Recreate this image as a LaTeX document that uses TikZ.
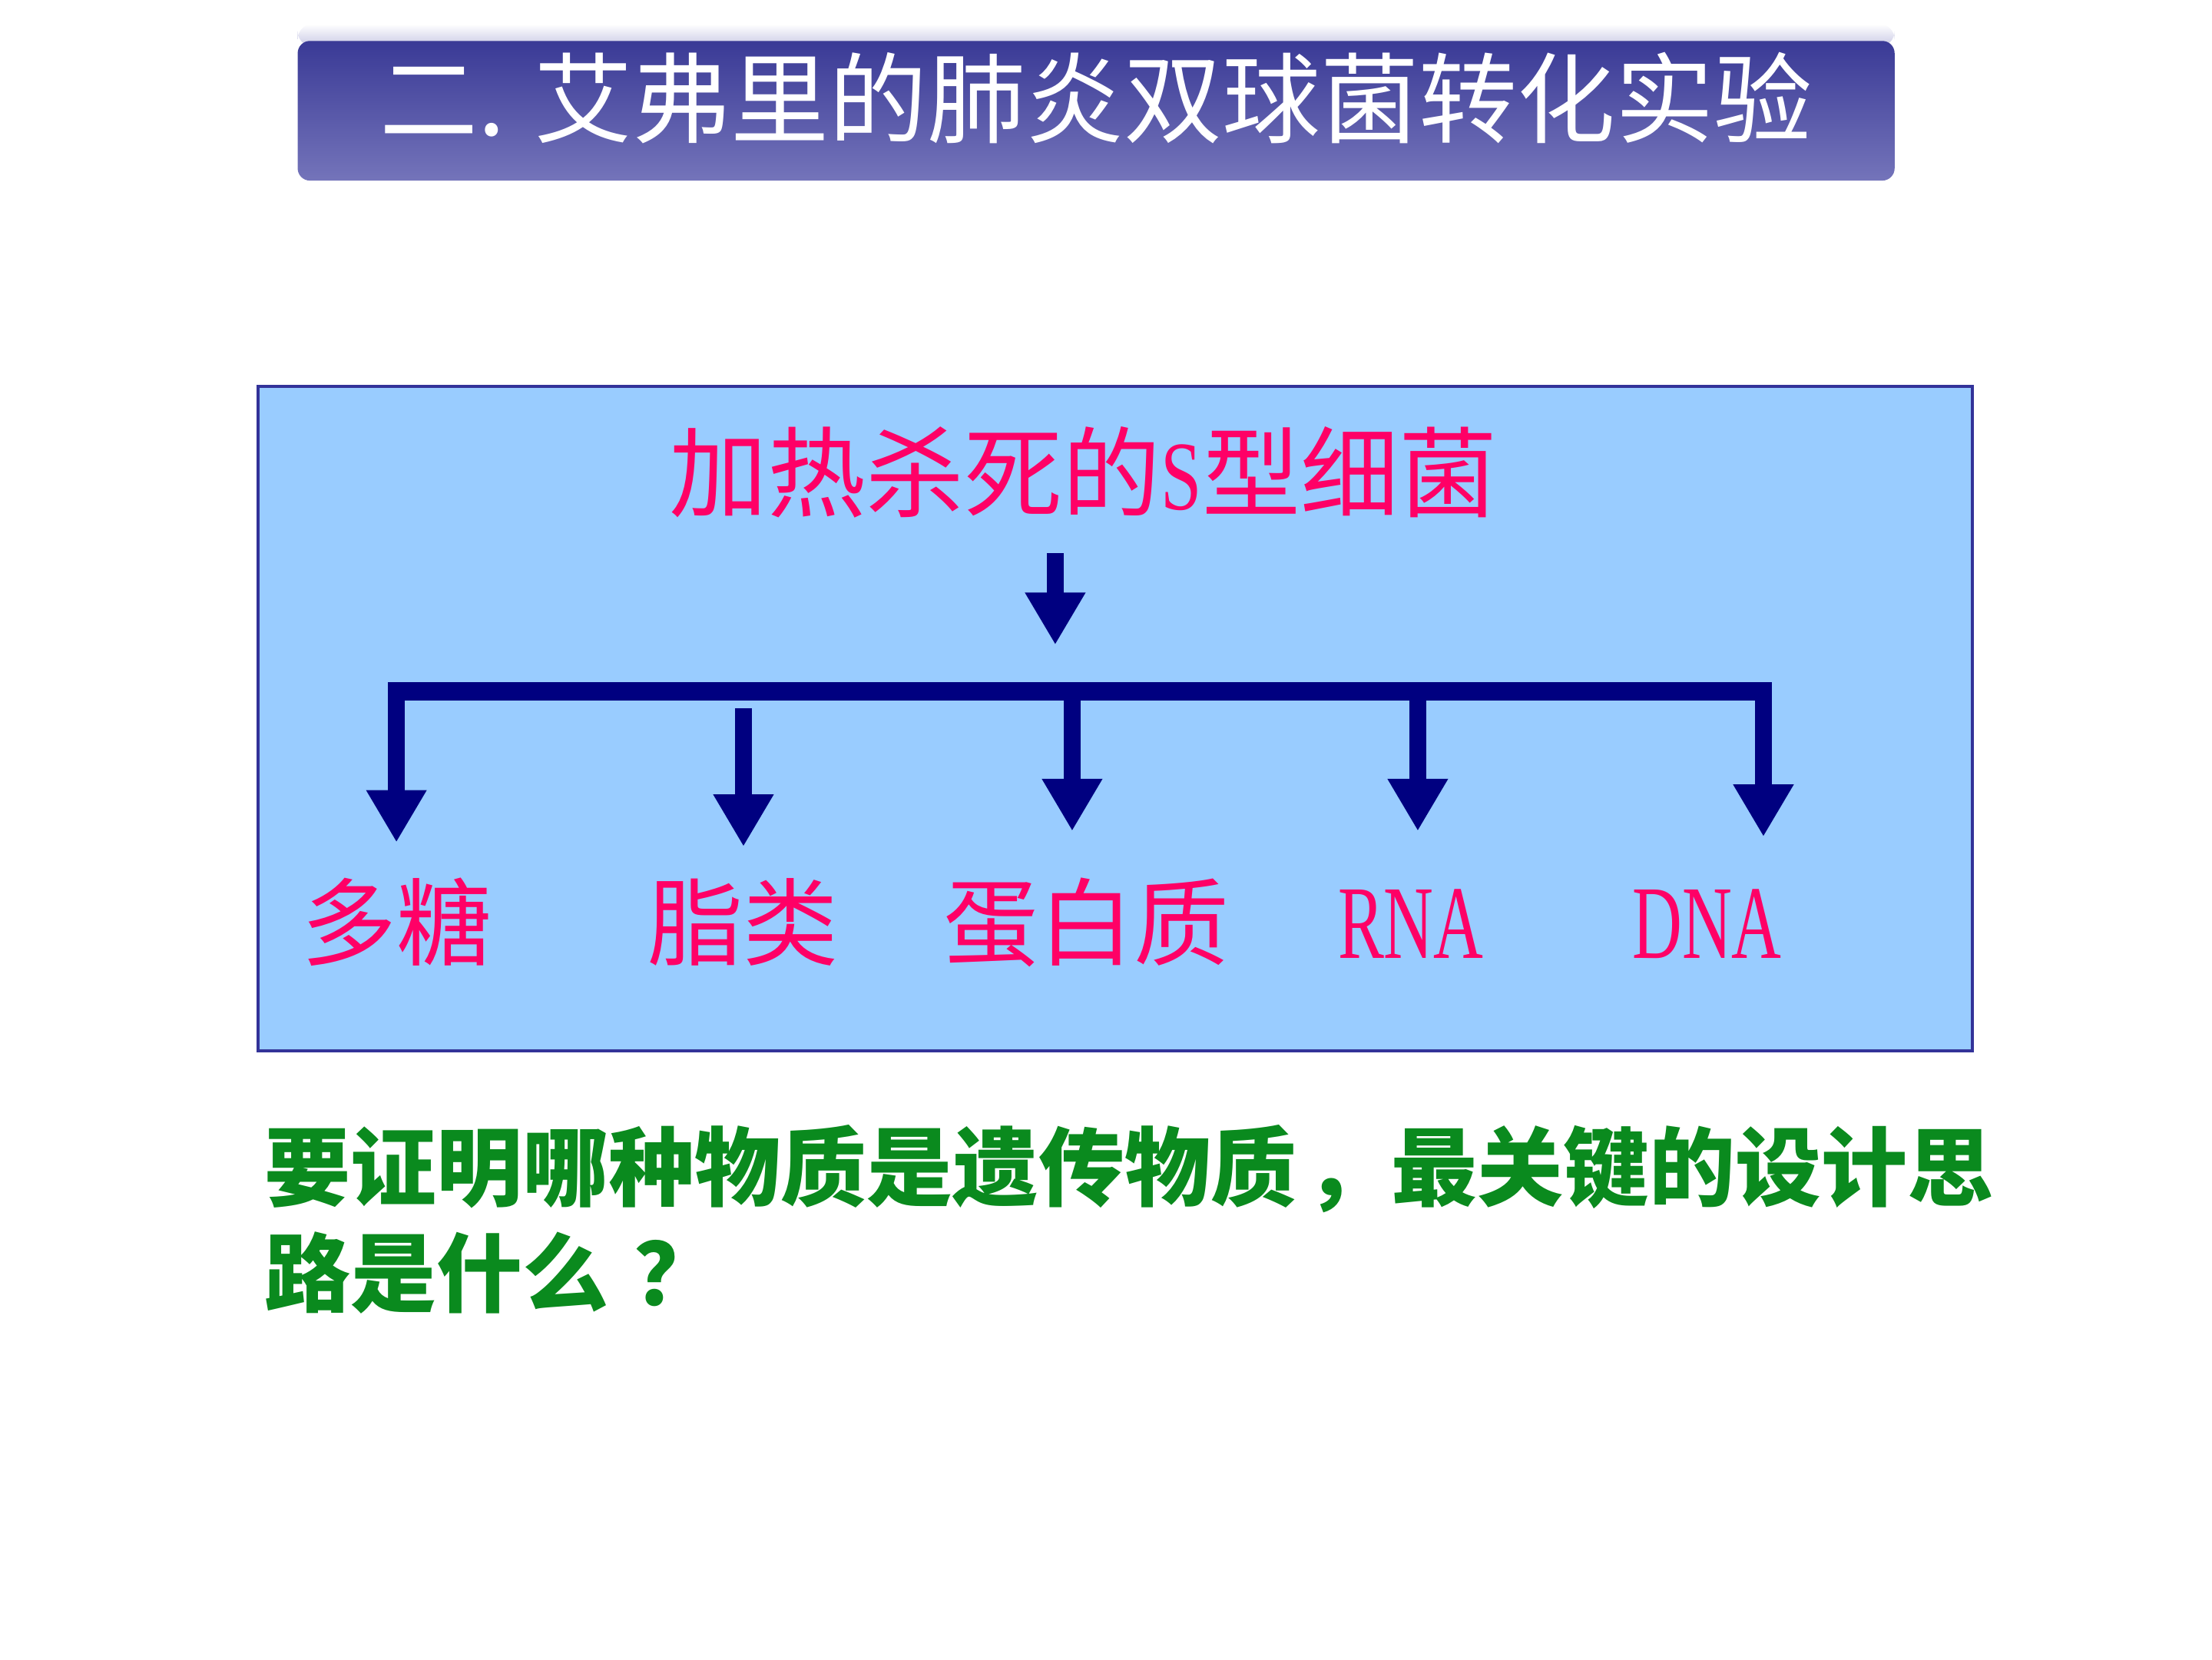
\documentclass[tikz,border=0pt]{standalone}
\usepackage{fontspec}
\usepackage{graphicx}
\usepackage{tikz}
\usetikzlibrary{arrows.meta}
\newfontfamily\cjk{Noto Sans CJK SC}
\newfontfamily\serifroman{Liberation Serif}
\definecolor{skybox}{HTML}{99CCFF}
\definecolor{boxline}{HTML}{333399}
\definecolor{navyarrow}{HTML}{000080}
\definecolor{rosetext}{HTML}{FF0066}
\definecolor{leafgreen}{HTML}{0A8A1E}
\definecolor{bandtop}{RGB}{58,58,150}
\definecolor{bandbot}{RGB}{116,116,186}
\definecolor{bandcap}{RGB}{200,200,228}

\begin{document}
\begin{tikzpicture}[
          x=0.4592pt, y=-0.4592pt,
          fatarrow/.style={draw=navyarrow, line width=5.5pt, -{Triangle[length=17pt, width=18.5pt]}},
          splitbar/.style={draw=navyarrow, line width=5.8pt},
          part/.style={text=rosetext, inner sep=0pt, anchor=base, font=\fontsize{31}{36}\selectfont\cjk},
          acid/.style={text=rosetext, inner sep=0pt, anchor=base, font=\fontsize{34}{40}\selectfont\serifroman}
      ]
          \useasboundingbox[fill=white] (0,0) rectangle (1568,1176);
          \shade[top color=white, bottom color=bandcap, rounded corners=5pt] (211,17) rectangle (1343,33);
          \shade[top color=bandtop, bottom color=bandbot, rounded corners=4pt] (211,29) rectangle (1343,128);
          \node[anchor=base, text=white, inner sep=0pt, font=\fontsize{32}{38}\selectfont\cjk] (title) at (777,96) {二. 艾弗里的肺炎双球菌转化实验};
          \draw[boxline, line width=1pt, fill=skybox] (183,274) rectangle (1398,745);
          \node[text=rosetext, inner sep=0pt, anchor=base, font=\fontsize{32}{38}\selectfont\cjk] (source) at (768,361) {加热杀死的{\serifroman\scalebox{0.75}[1]{S}}型细菌};
          \coordinate (feed) at (748,392);
          \coordinate (split) at (748,457);
          \draw[fatarrow] (feed) -- (split);
          \coordinate (barL) at (275,490);
          \coordinate (barR) at (1256,490);
          \draw[splitbar] (barL) -- (barR);
          \node[part] (sugar) at (281,679) {多糖};
          \node[part] (lipid) at (527,679) {脂类};
          \node[part] (protein) at (770,679) {蛋白质};
          \node[acid] (rna) at (1000,679) {\scalebox{0.66}[1]{RNA}};
          \node[acid] (dna) at (1210,679) {\scalebox{0.66}[1]{DNA}};
          \foreach \i/\ax/\ay/\ty in {1/281/496/597, 2/527/502/600, 3/760/496/589, 4/1005/496/589, 5/1250/484/593} {
              \coordinate (from\i) at (\ax,\ay);
              \coordinate (tip\i) at (\ax,\ty);
              \draw[fatarrow] (from\i) -- (tip\i);
          }
          \node[anchor=north west, inner sep=0pt, align=left, text=leafgreen, font=\fontsize{28}{34.4}\selectfont\cjk\bfseries] (question) at (187,797) {要证明哪种物质是遗传物质\hspace{0.1em}，最关键的设计思\\路是什么\hspace{0.3em}？};
      \end{tikzpicture}
\end{document}
